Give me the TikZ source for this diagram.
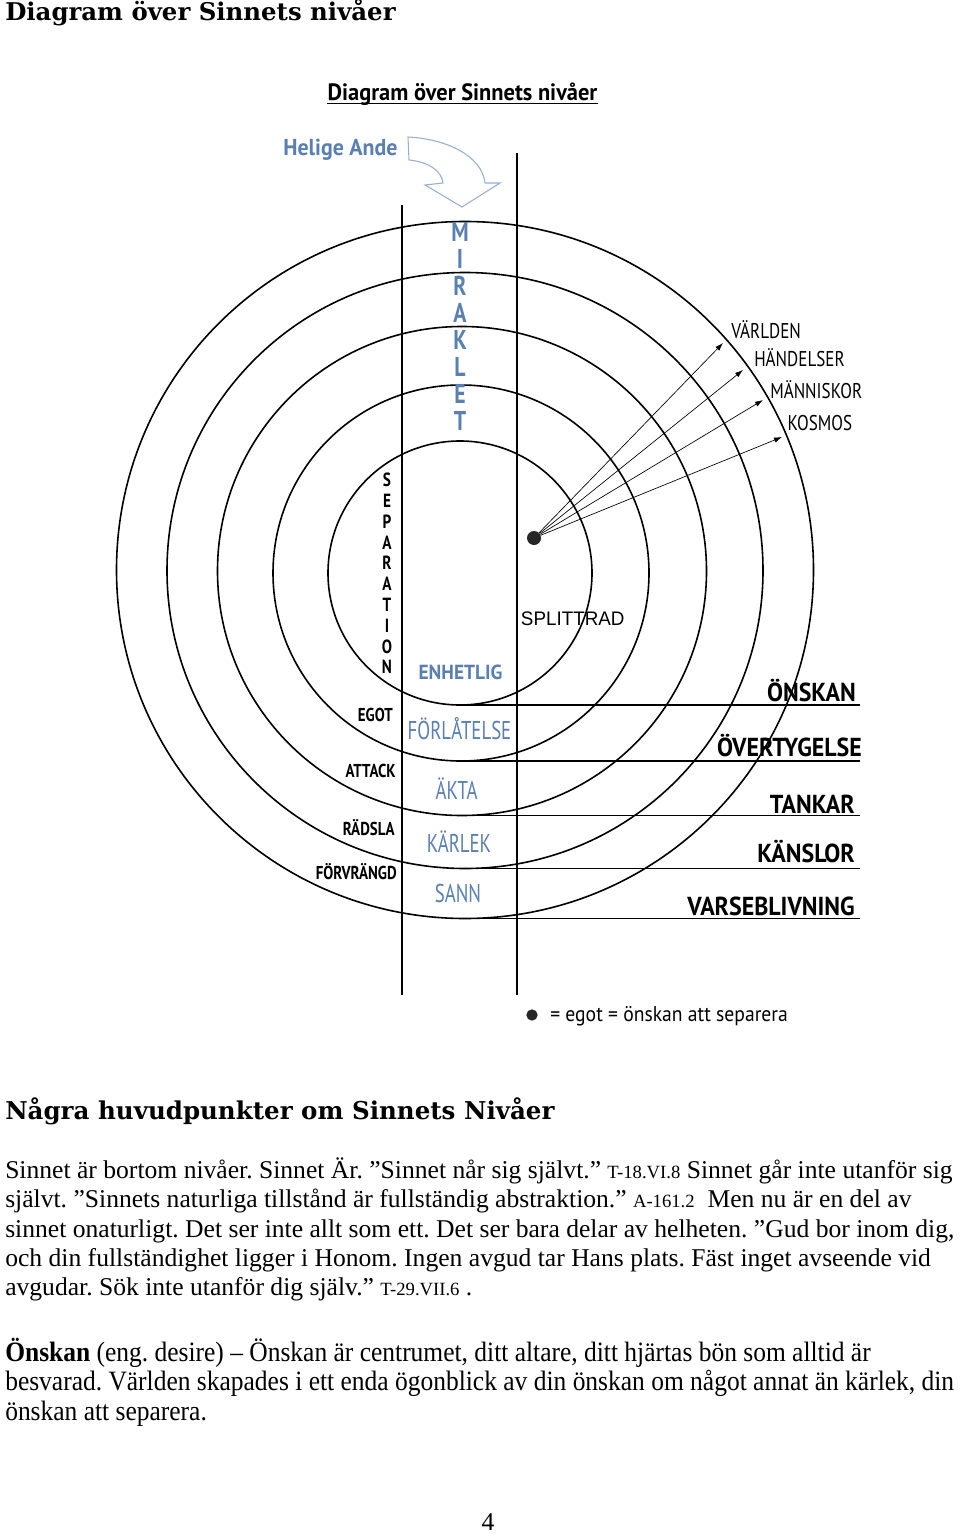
\documentclass[tikz,border=0pt]{standalone}
\usepackage{fontspec}
\usepackage{xcolor}
\setmainfont{Liberation Serif}
\newfontfamily\rubrikfont{DejaVu Serif}
\newfontfamily\smalfont[FakeStretch=0.80]{PT Sans}
\newfontfamily\tunnfont[FakeStretch=0.73]{PT Sans}
\newfontfamily\mellanfont[FakeStretch=0.92]{PT Sans}
\newfontfamily\bredfont[FakeStretch=0.95]{PT Sans}
\newfontfamily\arialfont[FakeStretch=0.96]{Liberation Sans}
\newfontfamily\smaltimes[FakeStretch=0.91]{Liberation Serif}
\usetikzlibrary{arrows.meta}

\definecolor{andeblue}{HTML}{5A7FB1}
\definecolor{pilblue}{HTML}{98AFCE}

\tikzset{
  txt/.style={inner sep=0pt},
  ring/.style={line width=1.2pt},
  linje/.style={line width=1.4pt},
  pil/.style={line width=0.5pt,-{Latex[length=6pt,width=4pt]}},
  hoger/.style={txt,anchor=base east,font=\mellanfont\bfseries\fontsize{19.5}{20}\selectfont},
  vanster/.style={txt,anchor=base east,font=\smalfont\bfseries\fontsize{14}{15}\selectfont},
  mitten/.style={txt,anchor=base,text=andeblue,font=\tunnfont\fontsize{19.3}{20}\selectfont},
  varld/.style={txt,anchor=base west,font=\smalfont\fontsize{16}{17}\selectfont},
  brod/.style={txt,anchor=base west,font=\fontsize{19.2}{22}\selectfont},
  brodsmal/.style={txt,anchor=base west,font=\smaltimes\fontsize{21}{22}\selectfont}
}
\newcommand{\hanv}[1]{{\fontsize{14}{15}\selectfont #1}}

\begin{document}
\frenchspacing
\begin{tikzpicture}[x=0.75pt,y=-0.75pt]
        \useasboundingbox (0,0) rectangle (960,1534);
        \fill[white] (0,0) rectangle (960,1534);

        \node[txt,anchor=base west,font=\rubrikfont\bfseries\fontsize{18.3}{20}\selectfont] (rubrik) at (5,21) {Diagram över Sinnets nivåer};

        \node[txt,anchor=base,font=\bredfont\bfseries\fontsize{17.7}{18}\selectfont] (titel) at (462.5,100.7) {Diagram över Sinnets nivåer};
        \draw[line width=0.9pt] ([yshift=-2.1pt]titel.base west) -- ([yshift=-2.1pt]titel.base east);

        \node[txt,anchor=base west,text=andeblue,font=\bredfont\bfseries\fontsize{17.3}{18}\selectfont] (ande) at (283,155.7) {Helige Ande};
        \draw[pilblue,line width=0.8pt,fill=white] (408,137) .. controls (447,139) and (482,156) .. (485,183) -- (500,183) -- (462,207) -- (425,185) -- (443,183) .. controls (442,172) and (430,162) .. (409,160) -- cycle;

        % nivåerna
        \draw[ring] (460,573) circle[radius=132];
        \draw[ring] (461,573) circle[radius=188];
        \draw[ring] (462,571) circle[radius=244.5];
        \draw[ring] (465,570.5) circle[radius=298];
        \draw[ring] (465,570) circle[radius=348.5];

        \draw[linje] (460,705) -- (860,705);
        \draw[linje] (461,761) -- (860,761);
        \draw[linje] (462,815.5) -- (860,815.5);
        \draw[linje] (465,868.5) -- (860,868.5);
        \draw[linje] (465,918.5) -- (860,918.5);

        \coordinate (vtop) at (402,205);
        \coordinate (vbot) at (402,995);
        \coordinate (htop) at (517,153);
        \coordinate (hbot) at (517,995);
        \draw[linje] (vtop) -- (vbot);
        \draw[linje] (htop) -- (hbot);

        \foreach \b [count=\i from 0] in {M,I,R,A,K,L,E,T}
          \node[txt,text=andeblue,font=\smalfont\bfseries\fontsize{20.4}{21}\selectfont] (mir\i) at (460,{232+27*\i}) {\b};
        \foreach \b [count=\i from 0] in {S,E,P,A,R,A,T,I,O,N}
          \node[txt,font=\smalfont\bfseries\fontsize{14.3}{15}\selectfont] (sep\i) at (387,{480+20.8*\i}) {\b};

        \node[vanster] (egot) at (393,721.7) {EGOT};
        \node[vanster] (attack) at (396,777.3) {ATTACK};
        \node[vanster] (radsla) at (395,835) {RÄDSLA};
        \node[vanster] (forv) at (397,879.3) {FÖRVRÄNGD};

        \node[txt,anchor=base,text=andeblue,font=\bredfont\bfseries\fontsize{15.3}{16}\selectfont] (enhetlig) at (460.5,679.3) {ENHETLIG};
        \node[mitten] (forlat) at (459.5,739.7) {FÖRLÅTELSE};
        \node[mitten] (akta) at (456.7,799.3) {ÄKTA};
        \node[mitten] (karlek) at (459,852.7) {KÄRLEK};
        \node[mitten] (sann) at (458,902.7) {SANN};

        \node[hoger] (onskan) at (856,701.7) {ÖNSKAN};
        \node[hoger] (overt) at (862,756.7) {ÖVERTYGELSE};
        \node[hoger] (tankar) at (855,813.3) {TANKAR};
        \node[hoger] (kanslor) at (855,862.7) {KÄNSLOR};
        \node[hoger] (varse) at (855,915) {VARSEBLIVNING};

        \node[txt,anchor=base west,font=\arialfont\fontsize{14.7}{15}\selectfont] (splittrad) at (520.7,625.7) {SPLITTRAD};

        \node[circle,fill=black!85,inner sep=0pt,minimum size=10.5pt] (ego) at (534,538) {};
        \coordinate (tvarld) at (723,343);
        \coordinate (thand) at (743,370);
        \coordinate (tmann) at (763,400);
        \coordinate (tkosm) at (782,437);
        \draw[pil] (ego) -- (tvarld);
        \draw[pil] (ego) -- (thand);
        \draw[pil] (ego) -- (tmann);
        \draw[pil] (ego) -- (tkosm);
        \node[varld] (varlden) at (731,338.3) {VÄRLDEN};
        \node[varld] (handelser) at (754,366.7) {HÄNDELSER};
        \node[varld] (manniskor) at (770,398.3) {MÄNNISKOR};
        \node[varld] (kosmos) at (787.3,430.7) {KOSMOS};

        \node[circle,fill=black!85,inner sep=0pt,minimum size=8.5pt] (prick) at (532,1015) {};
        \node[txt,anchor=base west,font=\mellanfont\fontsize{16}{17}\selectfont] (forklaring) at (550,1021.7) {= egot = önskan att separera};

        % texten under diagrammet
        \node[txt,anchor=base west,font=\rubrikfont\bfseries\fontsize{18.4}{20}\selectfont] (huvud) at (5,1119) {Några huvudpunkter om Sinnets Nivåer};

        \node[brod] (p1) at (5,1178.3) {Sinnet är bortom nivåer. Sinnet Är. ”Sinnet når sig självt.” \hanv{T-18.VI.8} Sinnet går inte utanför sig};
        \node[brod] (p2) at (5,1207.7) {självt. ”Sinnets naturliga tillstånd är fullständig abstraktion.” \hanv{A-161.2}\ \ Men nu är en del av};
        \node[brod] (p3) at (5,1237.1) {sinnet onaturligt. Det ser inte allt som ett. Det ser bara delar av helheten. ”Gud bor inom dig,};
        \node[brod] (p4) at (5,1266.5) {och din fullständighet ligger i Honom. Ingen avgud tar Hans plats. Fäst inget avseende vid};
        \node[brod] (p5) at (5,1295.9) {avgudar. Sök inte utanför dig själv.” \hanv{T-29.VII.6} .};

        \node[brodsmal] (q1) at (5,1361) {\textbf{Önskan} (eng. desire) – Önskan är centrumet, ditt altare, ditt hjärtas bön som alltid är};
        \node[brodsmal] (q2) at (5,1390.5) {besvarad. Världen skapades i ett enda ögonblick av din önskan om något annat än kärlek, din};
        \node[brodsmal] (q3) at (5,1420) {önskan att separera.};

        \node[txt,anchor=base,font=\fontsize{19.2}{22}\selectfont] (sida) at (488,1530) {4};
    \end{tikzpicture}
\end{document}
